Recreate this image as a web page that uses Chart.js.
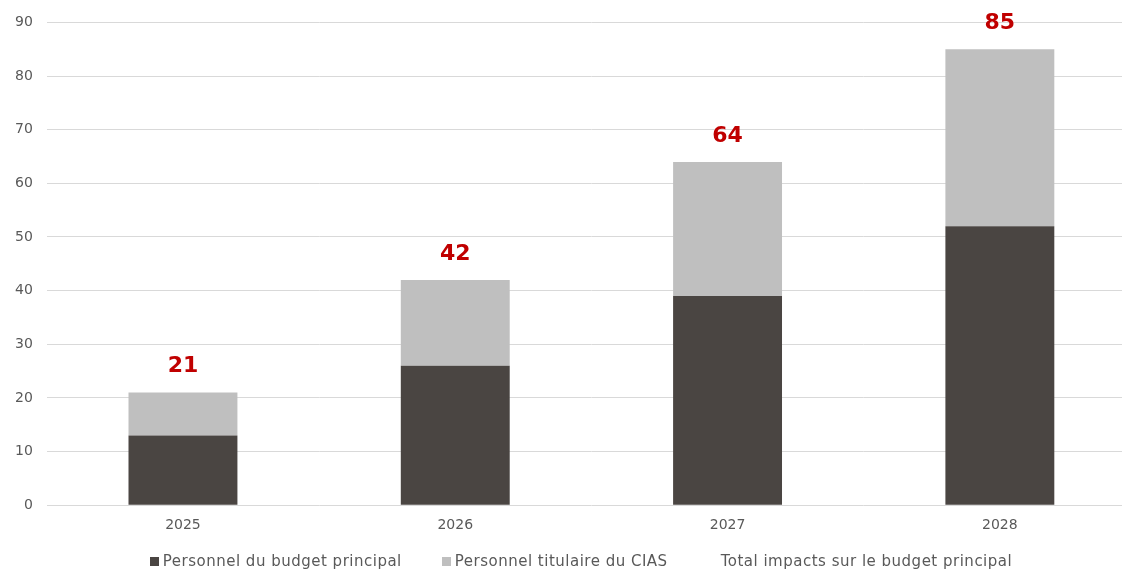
<!DOCTYPE html>
<html lang="fr">
<head>
<meta charset="utf-8">
<title>Impacts sur le budget principal</title>
<script src="https://cdn.jsdelivr.net/npm/chart.js@4/dist/chart.umd.min.js"></script>
<style>
  html, body { margin: 0; padding: 0; background: #ffffff; overflow: hidden; }
  #wrap { position: relative; width: 1136px; height: 571px; }
  #legend {
    position: absolute; left: 0; top: 551px; width: 1162px; height: 20px;
    display: flex; justify-content: center; align-items: center; gap: 40px;
    font-family: 'DejaVu Sans', sans-serif; font-size: 15px; letter-spacing: 0.5px;
    color: #595959; white-space: nowrap;
  }
  #legend .item { display: flex; align-items: center; }
  #legend .box { width: 9px; height: 9px; margin-right: 4px; }
</style>
</head>
<body>
<div id="wrap">
  <canvas id="chart"></canvas>
  <div id="legend"></div>
</div>
<script>
// Years on the x axis
const years = ['2025', '2026', '2027', '2028'];
// Staff of the main budget (dark part of each bar)
const personnelBudget = [13, 26, 39, 52];
// CIAS tenured staff (light part stacked on top)
const personnelCIAS = [8, 16, 25, 33];
// Total impact, shown as the red figure above each bar
const totalImpacts = [21, 42, 64, 85];
// Y axis ticks
const yTicks = [0, 10, 20, 30, 40, 50, 60, 70, 80, 90];

const FONT = 'DejaVu Sans';
const GREY_TEXT = '#595959';

// Writes the total above each bar, centred on the category
const totalLabels = {
  id: 'totalLabels',
  afterDatasetsDraw(chart) {
    const meta = chart.getDatasetMeta(2);
    const ctx = chart.ctx;
    ctx.save();
    ctx.fillStyle = '#C00000';
    ctx.font = 'bold 22px ' + FONT;
    ctx.textAlign = 'center';
    ctx.textBaseline = 'middle';
    meta.data.forEach((pt, i) => {
      ctx.fillText(String(totalImpacts[i]), pt.x, pt.y - 26);
    });
    ctx.restore();
  }
};

const chart = new Chart(document.getElementById('chart'), {
  type: 'bar',
  data: {
    labels: years,
    datasets: [
      {
        label: 'Personnel du budget principal',
        data: personnelBudget,
        backgroundColor: '#4A4542',
        stack: 'bars',
        order: 2
      },
      {
        label: 'Personnel titulaire du CIAS',
        data: personnelCIAS,
        backgroundColor: '#BFBFBF',
        stack: 'bars',
        order: 2
      },
      {
        type: 'line',
        label: 'Total impacts sur le budget principal',
        data: totalImpacts,
        stack: 'total',
        showLine: false,
        pointRadius: 0,
        borderColor: 'rgba(0,0,0,0)',
        backgroundColor: 'rgba(0,0,0,0)',
        order: 1
      }
    ]
  },
  options: {
    responsive: true,
    maintainAspectRatio: false,
    animation: false,
    layout: { padding: { top: 13, left: 1, right: 0, bottom: 25 } },
    datasets: {
      bar: { categoryPercentage: 1, barPercentage: 0.4 }
    },
    scales: {
      x: {
        stacked: true,
        grid: { display: false, drawTicks: false },
        border: { display: false },
        ticks: { color: GREY_TEXT, font: { family: FONT, size: 14 }, padding: 12 }
      },
      y: {
        stacked: true,
        min: 0,
        max: 90,
        afterBuildTicks(axis) { axis.ticks = yTicks.map(v => ({ value: v })); },
        grid: { color: '#D9D9D9', lineWidth: 1, drawTicks: false },
        border: { display: false },
        ticks: { color: GREY_TEXT, font: { family: FONT, size: 14 }, padding: 14 }
      }
    },
    plugins: {
      legend: { display: false },
      tooltip: { enabled: false }
    }
  },
  plugins: [totalLabels]
});

// Legend below the chart, built from the datasets (the total series has no swatch)
const legendEl = document.getElementById('legend');
chart.data.datasets.forEach(ds => {
  const item = document.createElement('span');
  item.className = 'item';
  const box = document.createElement('span');
  box.className = 'box';
  box.style.background = ds.type === 'line' ? 'transparent' : ds.backgroundColor;
  const txt = document.createElement('span');
  txt.textContent = ds.label;
  item.appendChild(box);
  item.appendChild(txt);
  legendEl.appendChild(item);
});
</script>
</body>
</html>
